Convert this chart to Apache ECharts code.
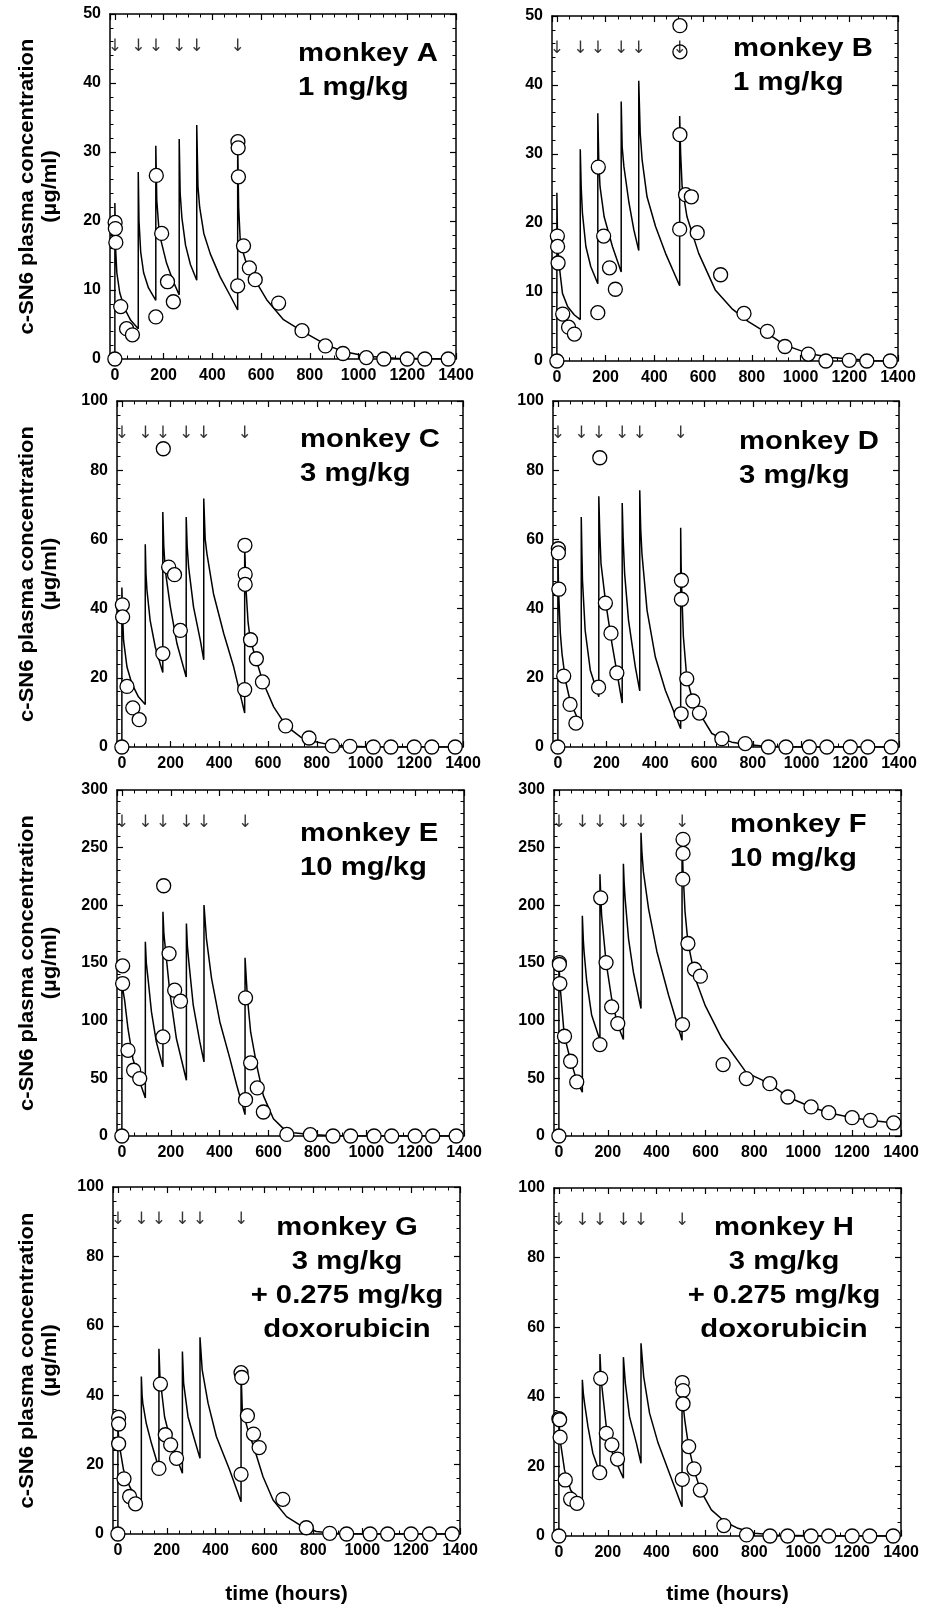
<!DOCTYPE html>
<html>
<head>
<meta charset="utf-8">
<title>c-SN6 plasma concentration</title>
<script src="https://cdn.jsdelivr.net/npm/echarts@6/dist/echarts.min.js"></script>
<style>
  html, body { margin: 0; padding: 0; background: #fff; }
  #chart { width: 935px; height: 1610px; }
</style>
</head>
<body>
<div id="chart"></div>
<script>
// dosing times (hours), marked with arrows
var doseTimes = [0, 96, 168, 264, 336, 504];

var monkeys = ['monkey A', 'monkey B', 'monkey C', 'monkey D', 'monkey E', 'monkey F', 'monkey G', 'monkey H'];
var regimens = ['1 mg/kg', '1 mg/kg', '3 mg/kg', '3 mg/kg', '10 mg/kg', '10 mg/kg',
  '3 mg/kg\n+ 0.275 mg/kg\ndoxorubicin', '3 mg/kg\n+ 0.275 mg/kg\ndoxorubicin'];
var yMax = [50, 50, 100, 100, 300, 300, 100, 100];
var yStep = [10, 10, 20, 20, 50, 50, 20, 20];
var yTitle = 'c-SN6 plasma concentration\n(\u00b5g/ml)';
var xTitle = 'time (hours)';

// observed concentrations [time h, ug/ml]
var obsA = [[0,0],[1,19.8],[2,18.9],[4,16.9],[24,7.6],[48,4.4],[72,3.5],[168,6.1],[170,26.6],[192,18.2],[216,11.2],[240,8.3],
  [504,10.6],[505,31.5],[506,30.6],[507,26.4],[528,16.4],[552,13.2],[576,11.5],[672,8.1],[768,4.1],[864,1.9],[936,0.8],[1032,0.2],[1104,0],[1200,0],[1272,0],[1368,0]];
var obsB = [[0,0],[2,18.1],[3,16.6],[5,14.2],[24,6.8],[48,4.9],[72,3.9],[168,7.0],[170,28.1],[192,18.1],[216,13.5],[240,10.4],
  [504,19.1],[505,32.8],[505,44.8],[505,48.6],[528,24.1],[552,23.8],[576,18.6],[672,12.5],[768,6.9],[864,4.3],[936,2.1],[1032,1.0],[1104,0],[1200,0.1],[1272,0],[1368,0]];
var obsC = [[0,0],[2,41.1],[3,37.6],[21,17.5],[45,11.3],[71,7.9],[168,27.0],[170,86.2],[192,52.0],[216,49.8],[240,33.7],
  [504,16.6],[505,58.3],[506,49.9],[506,47.0],[528,31.0],[552,25.5],[577,18.8],[672,6.1],[768,2.6],[864,0.3],[936,0.2],[1032,0],[1104,0],[1200,0],[1272,0],[1368,0]];
var obsD = [[0,0],[2,57.3],[2,56.1],[4,45.6],[24,20.5],[50,12.3],[74,6.9],[167,17.3],[172,83.6],[195,41.6],[218,32.9],[242,21.4],
  [506,9.6],[507,48.2],[507,42.7],[529,19.7],[554,13.3],[581,9.8],[673,2.4],[769,1.0],[864,0],[936,0],[1032,0],[1104,0],[1200,0],[1272,0],[1368,0]];
var obsE = [[0,0],[3,147.5],[3,132.2],[25,74.3],[48,57.0],[73,49.8],[168,85.9],[171,217.0],[193,158.2],[216,126.4],[240,116.9],
  [506,31.5],[506,119.8],[527,63.4],[554,41.7],[579,20.8],[675,1.4],[771,1.2],[864,0],[936,0],[1032,0],[1104,0],[1200,0],[1272,0],[1368,0]];
var obsF = [[0,0],[2,150.4],[2,148.7],[4,132.2],[23,86.5],[48,64.8],[73,46.9],[168,79.3],[171,206.5],[193,150.4],[216,111.9],[241,97.5],
  [506,96.6],[507,222.7],[508,245.0],[508,257.2],[528,166.9],[555,144.6],[579,138.6],[672,61.9],[767,49.8],[863,45.4],[937,33.8],[1032,25.2],[1104,20.2],[1200,15.9],[1275,13.6],[1370,11.3]];
var obsG = [[0,0],[3,33.6],[3,31.7],[3,26.0],[25,15.9],[48,10.8],[72,8.7],[168,18.9],[174,43.2],[194,28.6],[216,25.7],[240,21.8],
  [504,17.2],[504,46.5],[507,45.1],[530,34.1],[555,28.8],[578,24.9],[675,10.0],[771,1.8],[867,0.2],[936,0],[1032,0],[1104,0],[1200,0],[1275,0],[1368,0]];
var obsH = [[0,0],[0,33.7],[3,33.4],[5,28.4],[26,16.1],[48,10.6],[74,9.4],[167,18.2],[171,45.3],[194,29.5],[217,26.2],[240,22.1],
  [505,16.3],[505,44.1],[508,41.8],[508,38.0],[531,25.7],[553,19.3],[579,13.2],[675,3.0],[768,0.3],[864,0],[936,0],[1032,0],[1104,0],[1200,0],[1272,0],[1368,0]];

// model fit curves [time h, ug/ml]
var fitA = [[0,0],[0,22.6],[3,16],[8,12.5],[20,9.6],[40,7.3],[65,5.6],[96,4.4],
  [96,27.1],[99,20],[106,15.5],[118,12.5],[138,10.3],[168,8.5],
  [168,30.9],[172,23],[182,18.2],[212,13.9],[240,11.2],[264,9.3],
  [264,31.9],[268,24],[275,20.5],[290,16.5],[310,13.7],[336,11.4],
  [336,33.9],[341,25],[348,22],[365,18.2],[392,15.2],[432,11.9],[473,9.2],[504,7.1],
  [504,31.5],[508,22],[515,16.8],[540,13.8],[578,11.3],[623,8.6],[692,5.7],[770,4.0],[870,2.0],[938,1.1],[1034,0.4],[1150,0.1],[1400,0]];
var fitB = [[0,0],[0,24.4],[3,17],[10,13.7],[23,9.8],[44,7.9],[71,6.7],[96,6.0],
  [96,30.7],[100,25],[105,21.4],[119,16.6],[139,13.7],[168,11.2],
  [168,35.9],[172,29],[177,25.3],[194,20.9],[228,16.6],[264,12.9],
  [264,37.6],[268,31],[275,28.2],[296,22.9],[316,19],[336,16.0],
  [336,40.6],[342,33],[350,29.1],[370,23.8],[405,19.5],[446,15.6],[504,10.9],
  [504,35.5],[508,30],[514,25.3],[534,20.9],[582,15.6],[650,10.3],[718,7.6],[786,5.7],[864,4.0],[936,2.3],[1032,1.1],[1127,0.5],[1300,0.05],[1400,0]];
var fitC = [[0,0],[0,46.1],[3,38],[7,30.8],[21,23.1],[41,18.3],[68,14.5],[96,12.3],
  [96,58.6],[99,50],[103,45.3],[116,36.6],[137,28.9],[168,21.5],
  [168,67.9],[172,58],[178,51.1],[199,40.5],[226,29.9],[264,20.2],
  [264,66.5],[268,58],[274,52.0],[294,40.5],[322,30.8],[336,25.2],
  [336,71.8],[342,60],[349,55.9],[376,44.3],[418,32.8],[459,23.1],[504,9.8],
  [504,58],[510,45],[518,36],[527,31],[552,25],[579,18.8],[623,11.6],[674,6.1],[733,2.9],[770,1.9],[870,0.4],[1000,0.05],[1400,0]];
var fitD = [[0,0],[0,57],[3,45],[10,33],[17,27],[31,19.3],[51,13],[78,8.7],[96,7.2],
  [96,66.5],[99,55],[101,48.2],[112,33.7],[133,22.2],[168,14.5],
  [168,72.5],[172,62],[177,53],[195,42.4],[222,29.9],[264,12.7],
  [264,70.5],[268,60],[274,50.1],[290,36.6],[318,23.1],[336,16.2],
  [336,74.2],[340,63],[345,55.9],[366,39.5],[400,26.0],[441,16.4],[504,5.3],
  [504,63.4],[506,52],[509,44],[515,32],[529,20],[554,13.3],[581,9.8],[632,3.9],[673,2.4],[714,1.4],[768,0.8],[850,0.2],[1000,0],[1400,0]];
var fitE = [[0,0],[0,135],[3,128],[11,118],[25,93],[45,67],[73,47],[96,33],
  [96,168.4],[100,150],[107,136.5],[121,107.6],[141,81.6],[168,59.9],
  [168,194.4],[172,175],[178,162.6],[196,125],[223,84.5],[264,48.3],
  [264,184.3],[268,165],[274,151],[292,113.4],[319,81.6],[336,64.2],
  [336,200.2],[346,171.2],[367,136.5],[401,98.9],[442,67.1],[470,44],[504,18.5],
  [504,154.5],[514,119],[527,90],[552,61],[579,35],[620,15],[661,6.4],[702,2.9],[771,1.2],[870,0.2],[1000,0],[1400,0]];
var fitF = [[0,0],[0,150],[3,138],[7,125],[22,87],[46,67],[73,48],[96,38],
  [96,191],[100,170],[103,160],[114,134],[134,105],[168,83],
  [168,227],[172,205],[175,191],[193,151],[216,119],[241,96],[264,83.6],
  [264,236],[267,220],[271,206],[285,171],[305,142],[336,110.5],
  [336,263],[340,245],[346,229],[367,197],[401,160],[449,122],[504,83],
  [504,257],[508,230],[516,195],[528,168],[558,136.5],[599,113],[667,84.5],[767,55],[863,45.4],[937,33.8],[1032,25.2],[1104,20.2],[1200,15.9],[1275,13.6],[1370,11.3],[1400,10.7]];
var fitG = [[0,0],[0,31],[3,28],[7,25.2],[23,18.5],[48,13.7],[75,10.3],[96,9.3],
  [96,45.4],[99,40],[102,37.7],[116,31.9],[137,26.2],[168,18.9],
  [168,53.4],[172,45.4],[191,33.8],[218,26.2],[264,17.5],
  [264,52.6],[269,43.5],[287,33.8],[314,27.1],[336,21.8],
  [336,56.7],[345,47.3],[369,37.7],[403,28.1],[457,18.5],[504,9.3],
  [504,46.8],[509,35.8],[532,30],[560,24.2],[594,16.5],[635,9.8],[690,5.0],[744,2.6],[812,0.7],[880,0.2],[1000,0],[1400,0]];
var fitH = [[0,0],[0,33],[3,30],[7,26.7],[23,19],[48,13.2],[78,10.4],[96,9.6],
  [96,44.9],[100,41],[105,38.2],[119,31.4],[139,23.8],[168,18],
  [168,52.3],[173,44.9],[194,31.4],[221,23.3],[264,16.6],
  [264,51.4],[272,43.9],[289,34.3],[317,26.7],[336,20.9],
  [336,55.4],[347,45.8],[371,35.3],[406,26.7],[460,16.6],[504,8.4],
  [504,44],[508,38],[515,33.4],[531,25.7],[553,19.0],[579,13.2],[624,7.5],[679,4.1],[733,2.2],[801,0.8],[900,0.2],[1100,0],[1400,0]];

var observed = [obsA, obsB, obsC, obsD, obsE, obsF, obsG, obsH];
var fitted = [fitA, fitB, fitC, fitD, fitE, fitF, fitG, fitH];

// layout of the eight panels (pixels)
var panels = [
  { left: 110, top: 14,   width: 346, height: 345, tx: 298, ty: 37,   ta: 'left' },
  { left: 552, top: 16,   width: 346, height: 345, tx: 733, ty: 32,   ta: 'left' },
  { left: 117, top: 401,  width: 346, height: 346, tx: 300, ty: 423,  ta: 'left' },
  { left: 553, top: 401,  width: 346, height: 346, tx: 739, ty: 425,  ta: 'left' },
  { left: 117, top: 790,  width: 347, height: 346, tx: 300, ty: 817,  ta: 'left' },
  { left: 554, top: 790,  width: 347, height: 346, tx: 730, ty: 808,  ta: 'left' },
  { left: 113, top: 1187, width: 347, height: 347, tx: 347, ty: 1211, ta: 'center' },
  { left: 554, top: 1188, width: 347, height: 348, tx: 784, ty: 1211, ta: 'center' }
];

var FONT = '"Liberation Sans", Arial, Helvetica, sans-serif';
var black = '#000';

function frameAxis(extra) {
  var base = {
    type: 'value',
    axisLine: { show: true, onZero: false, lineStyle: { color: black, width: 1.5 } },
    axisTick: { show: true, inside: true, length: 6, lineStyle: { color: black, width: 1.2 } },
    splitLine: { show: false },
    minorSplitLine: { show: false },
    axisLabel: { show: false }
  };
  return Object.assign(base, extra);
}

function minor(n) {
  return { show: true, splitNumber: n, length: 3.5, lineStyle: { color: black, width: 1 } };
}

var grids = [], xAxes = [], yAxes = [], series = [], graphics = [];

panels.forEach(function (p, i) {
  grids.push({ left: p.left, top: p.top, width: p.width, height: p.height,
    containLabel: false, outerBoundsMode: 'none' });

  var labelStyle = { show: true, color: black, fontSize: 16, fontWeight: 'bold', fontFamily: FONT, margin: 9,
    formatter: function (v) { return String(v); } };

  xAxes.push(frameAxis({ gridIndex: i, position: 'bottom', min: -20, max: 1400, splitNumber: 7,
    minorTick: minor(4), axisLabel: Object.assign({ showMinLabel: false }, labelStyle) }));
  xAxes.push(frameAxis({ gridIndex: i, position: 'top', min: -20, max: 1400, splitNumber: 7,
    minorTick: minor(4) }));

  yAxes.push(frameAxis({ gridIndex: i, position: 'left', min: 0, max: yMax[i], interval: yStep[i],
    minorTick: minor(5), axisLabel: labelStyle }));
  yAxes.push(frameAxis({ gridIndex: i, position: 'right', min: 0, max: yMax[i], interval: yStep[i],
    minorTick: minor(5) }));

  var xi = i * 2, yi = i * 2;

  series.push({
    type: 'line', xAxisIndex: xi, yAxisIndex: yi, data: fitted[i],
    symbol: 'none', showSymbol: false, z: 2,
    lineStyle: { color: black, width: 1.5 }
  });
  series.push({
    type: 'scatter', xAxisIndex: xi, yAxisIndex: yi, data: observed[i],
    symbol: 'circle', symbolSize: 14, clip: false, z: 3,
    itemStyle: { color: '#fff', borderColor: black, borderWidth: 1.3, opacity: 1 }
  });
  series.push({
    type: 'scatter', xAxisIndex: xi, yAxisIndex: yi, silent: true, z: 4,
    data: doseTimes.map(function (t) { return [t, yMax[i] * 0.905]; }),
    symbolSize: 1, itemStyle: { color: 'rgba(0,0,0,0)' },
    label: { show: true, position: 'inside', formatter: '\u2193', fontSize: 17,
      fontFamily: '"DejaVu Sans", sans-serif', color: black }
  });

  // panel caption
  graphics.push({
    type: 'text', x: p.tx, y: p.ty, scaleX: 1.17, z: 10,
    style: { text: monkeys[i] + '\n' + regimens[i], fill: black, font: 'bold 25px ' + FONT,
      lineHeight: 34, align: p.ta, verticalAlign: 'top' }
  });

  // y-axis title on the left column
  if (i % 2 === 0) {
    graphics.push({
      type: 'text', x: 39, y: p.top + p.height / 2, rotation: Math.PI / 2, scaleX: 1.1, z: 10,
      style: { text: yTitle, fill: black, font: 'bold 20px ' + FONT, lineHeight: 23,
        align: 'center', verticalAlign: 'middle' }
    });
  }
  // x-axis title on the bottom row
  if (i >= 6) {
    graphics.push({
      type: 'text', x: p.left + p.width / 2, y: 1594, scaleX: 1.06, z: 10,
      style: { text: xTitle, fill: black, font: 'bold 20px ' + FONT,
        align: 'center', verticalAlign: 'middle' }
    });
  }
});

var chart = echarts.init(document.getElementById('chart'), null, { renderer: 'canvas' });
chart.setOption({
  animation: false,
  backgroundColor: '#fff',
  textStyle: { fontFamily: FONT },
  grid: grids,
  xAxis: xAxes,
  yAxis: yAxes,
  series: series,
  graphic: graphics
});
</script>
</body>
</html>
